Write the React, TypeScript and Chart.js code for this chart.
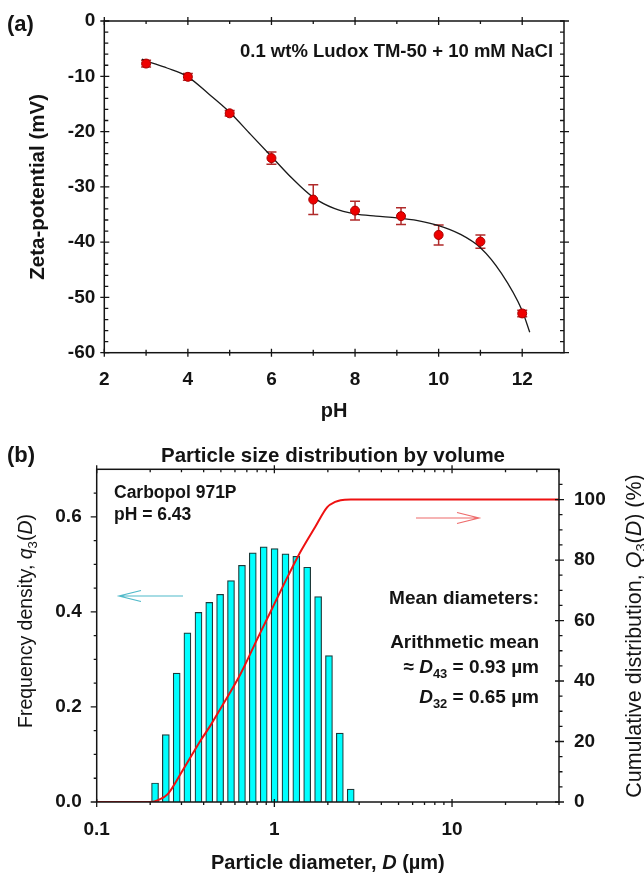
import React, { useEffect, useRef } from 'react';
import { Chart, registerables } from 'chart.js';

Chart.register(...registerables);

const FONT = 'Arial, "Liberation Sans", Helvetica, sans-serif';
const INK = '#141414';

// ---------- Panel (a): zeta potential vs pH ----------
const phValues = [3, 4, 5, 6, 7, 8, 9.1, 10, 11, 12];
const zetaValues = [-7.7, -10.1, -16.7, -24.8, -32.3, -34.3, -35.3, -38.7, -39.9, -52.9];
const zetaErrors = [0.6, 0.6, 0.5, 1.1, 2.7, 1.7, 1.5, 1.8, 1.2, 0.6];
const fitPH = [2.9, 3, 3.5, 4, 4.5, 5, 5.5, 6, 6.5, 7, 7.5, 8, 8.5, 9, 9.5, 10, 10.5, 11, 11.5, 12, 12.18];
const fitZeta = [-6.9, -7.2, -8.5, -10.1, -13.2, -16.5, -20.5, -24.5, -28.5, -31.9, -33.9, -34.9, -35.3, -35.6, -36.1, -37.0, -38.5, -41.0, -45.6, -52.4, -56.3];
const phMajorTicks = [2, 4, 6, 8, 10, 12];
const phMinorTicks = [3, 5, 7, 9, 11];
const zetaMajorTicks = [0, -10, -20, -30, -40, -50, -60];
const zetaMinorTicks = [-2, -4, -6, -8, -12, -14, -16, -18, -22, -24, -26, -28, -32, -34, -36, -38, -42, -44, -46, -48, -52, -54, -56, -58];

// ---------- Panel (b): particle size distribution ----------
const diameters = [0.213, 0.245, 0.282, 0.324, 0.374, 0.43, 0.495, 0.57, 0.657, 0.756, 0.871, 1.003, 1.155, 1.329, 1.53, 1.763, 2.029, 2.336, 2.69];
const freqDensity = [0.04, 0.142, 0.271, 0.356, 0.399, 0.42, 0.437, 0.466, 0.498, 0.524, 0.537, 0.533, 0.522, 0.517, 0.494, 0.432, 0.308, 0.145, 0.027];
const cumDiameters = [0.1, 0.2, 0.225, 0.251, 0.298, 0.386, 0.439, 0.499, 0.647, 0.803, 1.0, 1.2, 1.405, 1.7, 1.985, 2.2, 2.36, 2.69, 40];
const cumValues = [0, 0, 0.8, 2.6, 9.5, 20.5, 25.5, 31.0, 42.5, 54.0, 65.5, 75.0, 82.8, 91.0, 97.5, 99.2, 99.8, 100, 100];
const dMajorTicks = [0.1, 1, 10];
const dTickLabels = ['0.1', '1', '10'];
const dMinorTicks = [0.2, 0.3, 0.4, 0.5, 0.6, 0.7, 0.8, 0.9, 2, 3, 4, 5, 6, 7, 8, 9, 20, 30, 40];
const qMajorTicks = [0, 0.2, 0.4, 0.6];
const qTickLabels = ['0.0', '0.2', '0.4', '0.6'];
const qMinorTicks = [0.05, 0.1, 0.15, 0.25, 0.3, 0.35, 0.45, 0.5, 0.55, 0.65];
const QMajorTicks = [0, 20, 40, 60, 80, 100];
const QMinorTicks = [5, 10, 15, 25, 30, 35, 45, 50, 55, 65, 70, 75, 85, 90, 95, 105];

type Seg = { t: string; i?: boolean; sub?: boolean };

function setFont(ctx: CanvasRenderingContext2D, size: number, italic: boolean, weight: string) {
  ctx.font = `${italic ? 'italic ' : ''}${weight} ${size}px ${FONT}`;
}

function richDraw(ctx: CanvasRenderingContext2D, segs: Seg[], x: number, y: number, size: number, align: 'left' | 'center' | 'right', weight = 'bold') {
  const widths = segs.map((s) => {
    setFont(ctx, s.sub ? size * 0.68 : size, !!s.i, weight);
    return ctx.measureText(s.t).width;
  });
  const total = widths.reduce((a, b) => a + b, 0);
  let cx = align === 'left' ? x : align === 'center' ? x - total / 2 : x - total;
  ctx.textAlign = 'left';
  ctx.textBaseline = 'alphabetic';
  segs.forEach((s, k) => {
    setFont(ctx, s.sub ? size * 0.68 : size, !!s.i, weight);
    ctx.fillText(s.t, cx, s.sub ? y + size * 0.26 : y);
    cx += widths[k];
  });
}

function richRotated(ctx: CanvasRenderingContext2D, segs: Seg[], cx: number, cy: number, size: number, weight = 'bold') {
  ctx.save();
  ctx.translate(cx, cy);
  ctx.rotate(-Math.PI / 2);
  richDraw(ctx, segs, 0, size * 0.36, size, 'center', weight);
  ctx.restore();
}

function drawTicks(ctx: CanvasRenderingContext2D, scale: any, vals: number[], side: string, area: any, inLen: number, outLen: number) {
  ctx.beginPath();
  vals.forEach((v) => {
    const p = scale.getPixelForValue(v);
    if (side === 'left') { ctx.moveTo(area.left - outLen, p); ctx.lineTo(area.left + inLen, p); }
    if (side === 'right') { ctx.moveTo(area.right + outLen, p); ctx.lineTo(area.right - inLen, p); }
    if (side === 'top') { ctx.moveTo(p, area.top - outLen); ctx.lineTo(p, area.top + inLen); }
    if (side === 'bottom') { ctx.moveTo(p, area.bottom + outLen); ctx.lineTo(p, area.bottom - inLen); }
  });
  ctx.stroke();
}

function arrow(ctx: CanvasRenderingContext2D, x1: number, x2: number, y: number, dir: number, color: string) {
  ctx.save();
  ctx.strokeStyle = color;
  ctx.lineWidth = 1.2;
  ctx.beginPath();
  ctx.moveTo(x1, y);
  ctx.lineTo(x2, y);
  const tip = dir < 0 ? x1 : x2;
  const back = tip - dir * 22;
  ctx.moveTo(back, y - 5.5);
  ctx.lineTo(tip, y);
  ctx.lineTo(back, y + 5.5);
  ctx.stroke();
  ctx.restore();
}

const tickFont = { family: FONT, size: 19, weight: 'bold' as const };

const decorA = {
  id: 'decorA',
  beforeDatasetsDraw(chart: any) {
    const ctx = chart.ctx as CanvasRenderingContext2D;
    const xs = chart.scales.x;
    const ys = chart.scales.y;
    ctx.save();
    ctx.strokeStyle = '#b02a2a';
    ctx.lineWidth = 1.5;
    ctx.beginPath();
    phValues.forEach((p, i) => {
      const x = xs.getPixelForValue(p);
      const yTop = ys.getPixelForValue(zetaValues[i] + zetaErrors[i]);
      const yBot = ys.getPixelForValue(zetaValues[i] - zetaErrors[i]);
      ctx.moveTo(x, yTop); ctx.lineTo(x, yBot);
      ctx.moveTo(x - 5, yTop); ctx.lineTo(x + 5, yTop);
      ctx.moveTo(x - 5, yBot); ctx.lineTo(x + 5, yBot);
    });
    ctx.stroke();
    ctx.restore();
  },
  afterDraw(chart: any) {
    const ctx = chart.ctx as CanvasRenderingContext2D;
    const a = chart.chartArea;
    const xs = chart.scales.x;
    const ys = chart.scales.y;
    ctx.save();
    ctx.strokeStyle = INK;
    ctx.lineWidth = 1.5;
    ctx.strokeRect(a.left, a.top, a.right - a.left, a.bottom - a.top);
    ctx.lineWidth = 1.3;
    drawTicks(ctx, ys, zetaMajorTicks, 'left', a, 5, 4);
    drawTicks(ctx, ys, zetaMinorTicks, 'left', a, 4, 0);
    drawTicks(ctx, ys, zetaMajorTicks, 'right', a, 4, 5);
    drawTicks(ctx, ys, zetaMinorTicks, 'right', a, 4, 0);
    drawTicks(ctx, xs, phMajorTicks, 'bottom', a, 4, 4);
    drawTicks(ctx, xs, phMinorTicks, 'bottom', a, 3, 3);
    drawTicks(ctx, xs, phMajorTicks, 'top', a, 4, 4);
    drawTicks(ctx, xs, phMinorTicks, 'top', a, 3, 0);
    ctx.fillStyle = INK;
    richDraw(ctx, [{ t: '(a)' }], 7, 31, 22, 'left');
    richDraw(ctx, [{ t: '0.1 wt% Ludox TM-50 + 10 mM NaCl' }], 240, 57, 18.5, 'left');
    richRotated(ctx, [{ t: 'Zeta-potential (mV)' }], 37, (a.top + a.bottom) / 2, 20.5);
    richDraw(ctx, [{ t: 'pH' }], (a.left + a.right) / 2, 417, 20, 'center');
    ctx.restore();
  },
};

const OY = 430;

const decorB = {
  id: 'decorB',
  afterDraw(chart: any) {
    const ctx = chart.ctx as CanvasRenderingContext2D;
    const a = chart.chartArea;
    const xs = chart.scales.x;
    const ys = chart.scales.y;
    const y2 = chart.scales.y2;
    ctx.save();
    ctx.strokeStyle = INK;
    ctx.lineWidth = 1.5;
    ctx.strokeRect(a.left, a.top, a.right - a.left, a.bottom - a.top);
    ctx.lineWidth = 1.3;
    drawTicks(ctx, ys, qMajorTicks, 'left', a, 0, 6);
    drawTicks(ctx, ys, qMinorTicks, 'left', a, 0, 3);
    drawTicks(ctx, y2, QMajorTicks, 'right', a, 4, 5);
    drawTicks(ctx, y2, QMinorTicks, 'right', a, 0, 3.5);
    drawTicks(ctx, xs, dMajorTicks, 'bottom', a, 3, 5);
    drawTicks(ctx, xs, dMinorTicks, 'bottom', a, 0, 3);
    drawTicks(ctx, xs, dMajorTicks, 'top', a, 4, 4);
    drawTicks(ctx, xs, dMinorTicks, 'top', a, 3, 0);

    ctx.translate(0, -OY);
    ctx.fillStyle = INK;
    richDraw(ctx, [{ t: '(b)' }], 7, 462, 22, 'left');
    richDraw(ctx, [{ t: 'Particle size distribution by volume' }], 333, 462, 20.5, 'center');
    richDraw(ctx, [{ t: 'Carbopol 971P' }], 114, 498, 17.5, 'left');
    richDraw(ctx, [{ t: 'pH = 6.43' }], 114, 520, 17.5, 'left');
    richDraw(ctx, [{ t: 'Mean diameters:' }], 539, 604, 19, 'right');
    richDraw(ctx, [{ t: 'Arithmetic mean' }], 539, 648, 19, 'right');
    richDraw(ctx, [{ t: '\u2248 ' }, { t: 'D', i: true }, { t: '43', sub: true }, { t: ' = 0.93 \u00b5m' }], 539, 673, 19, 'right');
    richDraw(ctx, [{ t: 'D', i: true }, { t: '32', sub: true }, { t: ' = 0.65 \u00b5m' }], 539, 703, 19, 'right');
    richDraw(ctx, [{ t: 'Particle diameter, ' }, { t: 'D', i: true }, { t: ' (\u00b5m)' }], (a.left + a.right) / 2, 869, 20, 'center');
    richRotated(ctx, [{ t: 'Frequency density, ' }, { t: 'q', i: true }, { t: '3', sub: true }, { t: '(' }, { t: 'D', i: true }, { t: ')' }], 25, 621, 19.5, 'normal');
    richRotated(ctx, [{ t: 'Cumulative distribution, ' }, { t: 'Q', i: true }, { t: '3', sub: true }, { t: '(' }, { t: 'D', i: true }, { t: ') (%)' }], 633, 636, 21.5, 'normal');
    arrow(ctx, 119, 183, 596, -1, '#4fb9c9');
    arrow(ctx, 416, 479, 518, 1, '#ee6b6b');
    ctx.restore();
  },
};

function near(v: number, list: number[]) {
  return list.findIndex((t) => Math.abs(v - t) <= Math.abs(t) * 1e-6 + 1e-9);
}

export default function App() {
  const refA = useRef<HTMLCanvasElement | null>(null);
  const refB = useRef<HTMLCanvasElement | null>(null);

  useEffect(() => {
    const chartA = new Chart(refA.current as HTMLCanvasElement, {
      type: 'scatter',
      data: {
        datasets: [
          {
            type: 'line',
            data: fitPH.map((x, i) => ({ x, y: fitZeta[i] })),
            borderColor: '#1a1a1a',
            borderWidth: 1.3,
            pointRadius: 0,
            cubicInterpolationMode: 'monotone',
            fill: false,
            order: 2,
          } as any,
          {
            type: 'scatter',
            data: phValues.map((x, i) => ({ x, y: zetaValues[i] })),
            backgroundColor: '#ee0000',
            borderColor: '#a80000',
            borderWidth: 1,
            pointRadius: 4.5,
            order: 1,
          } as any,
        ],
      },
      options: {
        responsive: false,
        animation: false,
        devicePixelRatio: 1,
        layout: { padding: { top: 21, right: 80, left: 0, bottom: 0 } },
        plugins: { legend: { display: false }, tooltip: { enabled: false } },
        scales: {
          x: {
            type: 'linear',
            min: 2,
            max: 13,
            afterFit: (s: any) => { s.height = 77.3; },
            grid: { display: false, drawTicks: false },
            border: { display: false },
            ticks: {
              stepSize: 2,
              font: tickFont,
              color: INK,
              padding: 16,
              callback: (v: any) => (near(Number(v), phMajorTicks) >= 0 ? String(v) : null),
            },
          },
          y: {
            type: 'linear',
            min: -60,
            max: 0,
            afterFit: (s: any) => { s.width = 104.3; },
            grid: { display: false, drawTicks: false },
            border: { display: false },
            ticks: {
              stepSize: 10,
              font: tickFont,
              color: INK,
              padding: 9,
              callback: (v: any) => (near(Number(v), zetaMajorTicks) >= 0 ? String(v) : null),
            },
          },
        },
      } as any,
      plugins: [decorA],
    });

    const chartB = new Chart(refB.current as HTMLCanvasElement, {
      type: 'bar',
      data: {
        datasets: [
          {
            type: 'line',
            data: cumDiameters.map((x, i) => ({ x, y: cumValues[i] })),
            yAxisID: 'y2',
            borderColor: '#ee1111',
            borderWidth: 2,
            pointRadius: 0,
            cubicInterpolationMode: 'monotone',
            fill: false,
            order: 0,
          } as any,
          {
            type: 'bar',
            data: diameters.map((x, i) => ({ x, y: freqDensity[i] })),
            yAxisID: 'y',
            backgroundColor: '#00ffff',
            borderColor: '#1d3a3a',
            borderWidth: 1.2,
            barThickness: 7,
            order: 1,
          } as any,
        ],
      },
      options: {
        responsive: false,
        animation: false,
        devicePixelRatio: 1,
        layout: { padding: { top: 39.3, right: 0, left: 0, bottom: 0 } },
        plugins: { legend: { display: false }, tooltip: { enabled: false } },
        scales: {
          x: {
            type: 'logarithmic',
            min: 0.1,
            max: 40,
            offset: false,
            afterFit: (s: any) => { s.height = 74; },
            grid: { display: false, drawTicks: false, offset: false },
            border: { display: false },
            ticks: {
              autoSkip: false,
              maxRotation: 0,
              font: tickFont,
              color: INK,
              padding: 16,
              callback: (v: any) => {
                const k = near(Number(v), dMajorTicks);
                return k >= 0 ? dTickLabels[k] : null;
              },
            },
          },
          y: {
            type: 'linear',
            position: 'left',
            min: 0,
            max: 0.7,
            afterFit: (s: any) => { s.width = 96.7; },
            grid: { display: false, drawTicks: false },
            border: { display: false },
            ticks: {
              stepSize: 0.1,
              font: tickFont,
              color: INK,
              padding: 15,
              callback: (v: any) => {
                const k = near(Number(v), qMajorTicks);
                return k >= 0 ? qTickLabels[k] : null;
              },
            },
          },
          y2: {
            type: 'linear',
            position: 'right',
            min: 0,
            max: 110,
            afterFit: (s: any) => { s.width = 85; },
            grid: { display: false, drawTicks: false },
            border: { display: false },
            ticks: {
              stepSize: 10,
              font: tickFont,
              color: INK,
              padding: 15,
              callback: (v: any) => (near(Number(v), QMajorTicks) >= 0 ? String(v) : null),
            },
          },
        },
      } as any,
      plugins: [decorB],
    });

    return () => {
      chartA.destroy();
      chartB.destroy();
    };
  }, []);

  return (
    <div style={{ position: 'absolute', left: 0, top: 0, width: 644, height: 876, background: '#ffffff', overflow: 'hidden' }}>
      <canvas ref={refA} width={644} height={430} style={{ position: 'absolute', left: 0, top: 0, width: 644, height: 430 }} />
      <canvas ref={refB} width={644} height={446} style={{ position: 'absolute', left: 0, top: OY, width: 644, height: 446 }} />
    </div>
  );
}
